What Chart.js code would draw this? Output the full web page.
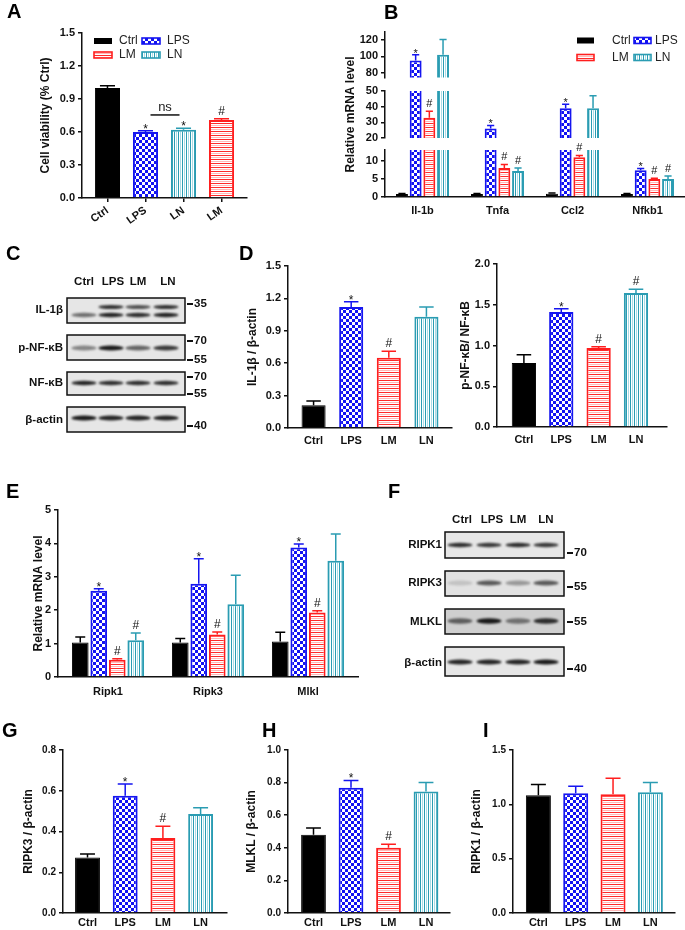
<!DOCTYPE html>
<html>
<head>
<meta charset="utf-8">
<title>Figure</title>
<script src="https://cdn.jsdelivr.net/npm/chart.js@4.4.1/dist/chart.umd.min.js"></script>
<style>
  html, body { margin: 0; padding: 0; background: #fff; }
  #page { position: relative; width: 685px; height: 930px; overflow: hidden; background: #fff; }
  #page canvas { position: absolute; }
</style>
</head>
<body>
<div id="page"><canvas id="bg" width="685" height="930" style="left:0;top:0;width:685px;height:930px"></canvas></div>
<script>
// ---- data ----
const groups = ["Ctrl", "LPS", "LM", "LN"];

// A: cell viability
const aLabels = ["Ctrl", "LPS", "LN", "LM"];
const aValues = [1.0, 0.60, 0.62, 0.71];
const aErrors = [0.02, 0.012, 0.015, 0.01];
const aMarks = ["", "*", "*", "#"];
const aTicks = [0, 0.3, 0.6, 0.9, 1.2, 1.5];

// B: relative mRNA level (broken axis)
const bGenes = ["Il-1b", "Tnfa", "Ccl2", "Nfkb1"];
const bCtrl = [0.8, 0.8, 0.9, 0.8];
const bCtrlErr = [0.2, 0.15, 0.2, 0.15];
const bLPS = [95, 26, 39, 7.4];
const bLPSErr = [7, 2, 2.5, 0.5];
const bLM = [33, 8, 11, 5];
const bLMErr = [4, 1, 0.5, 0.2];
const bLN = [102, 7.2, 39, 5];
const bLNErr = [18, 0.8, 8, 0.8];
const bLPSMarks = ["*", "*", "*", "*"];
const bLMMarks = ["#", "#", "#", "#"];
const bLNMarks = ["", "#", "", "#"];
const bTopRange = [75, 129], bTopTicks = [80, 100, 120];
const bMidRange = [20, 50], bMidTicks = [20, 30, 40, 50];
const bLowRange = [0, 13], bLowTicks = [0, 5, 10];

// D: blot quantification
const d1Values = [0.21, 1.12, 0.65, 1.03];
const d1Errors = [0.04, 0.05, 0.06, 0.09];
const d1Marks = ["", "*", "#", ""];
const d1Ticks = [0, 0.3, 0.6, 0.9, 1.2, 1.5];
const d2Values = [0.785, 1.41, 0.97, 1.645];
const d2Errors = [0.1, 0.04, 0.015, 0.045];
const d2Marks = ["", "*", "#", "#"];
const d2Ticks = [0, 0.5, 1.0, 1.5, 2.0];

// E: relative mRNA level
const eGenes = ["Ripk1", "Ripk3", "Mlkl"];
const eCtrl = [1.03, 1.03, 1.06];
const eCtrlErr = [0.17, 0.12, 0.28];
const eLPS = [2.58, 2.79, 3.88];
const eLPSErr = [0.06, 0.75, 0.1];
const eLM = [0.52, 1.27, 1.93];
const eLMErr = [0.03, 0.08, 0.05];
const eLN = [1.1, 2.18, 3.48];
const eLNErr = [0.22, 0.87, 0.8];
const eLPSMarks = ["*", "*", "*"];
const eLMMarks = ["#", "#", "#"];
const eLNMarks = ["#", "", ""];
const eTicks = [0, 1, 2, 3, 4, 5];

// G, H, I
const gValues = [0.272, 0.576, 0.368, 0.486];
const gErrors = [0.018, 0.057, 0.058, 0.031];
const gMarks = ["", "*", "#", ""];
const gTicks = [0, 0.2, 0.4, 0.6, 0.8];
const hValues = [0.48, 0.768, 0.40, 0.745];
const hErrors = [0.042, 0.045, 0.022, 0.055];
const hMarks = ["", "*", "#", ""];
const hTicks = [0, 0.2, 0.4, 0.6, 0.8, 1.0];
const iValues = [1.083, 1.103, 1.093, 1.112];
const iErrors = [0.1, 0.063, 0.148, 0.088];
const iMarks = ["", "", "", ""];
const iTicks = [0, 0.5, 1.0, 1.5];

// blot band strengths (Ctrl, LPS, LM, LN)
const cIl1bUpper = [0, 0.85, 0.7, 0.85];
const cIl1bLower = [0.55, 0.9, 0.85, 0.9];
const cPnfkb = [0.45, 0.95, 0.6, 0.8];
const cNfkb = [0.9, 0.85, 0.85, 0.85];
const cActin = [0.95, 0.9, 0.9, 0.9];
const fRipk1 = [0.85, 0.8, 0.85, 0.8];
const fRipk3 = [0.15, 0.65, 0.35, 0.65];
const fMlkl = [0.6, 0.95, 0.5, 0.85];
const fActin = [0.9, 0.9, 0.9, 0.95];

// ---- styles ----
const FONT = '"Liberation Sans", Arial, sans-serif';
Chart.defaults.font.family = FONT;
Chart.defaults.color = "#111";
Chart.defaults.animation = false;
Chart.defaults.plugins.legend.display = false;
Chart.defaults.plugins.tooltip.enabled = false;

function makePattern(w, h, draw) {
  const c = document.createElement("canvas");
  c.width = w; c.height = h;
  const x = c.getContext("2d");
  x.fillStyle = "#fff"; x.fillRect(0, 0, w, h);
  draw(x);
  return x.createPattern(c, "repeat");
}
const checker = makePattern(6, 6, x => {
  x.fillStyle = "#1212f2";
  x.fillRect(0, 0, 3, 3); x.fillRect(3, 3, 3, 3);
});
const hStripes = makePattern(4, 4, x => {
  x.fillStyle = "#ff2a2a"; x.fillRect(0, 0, 4, 1);
  x.fillStyle = "#ffb8b8"; x.fillRect(0, 2, 4, 1);
});
const vStripes = makePattern(4, 4, x => {
  x.fillStyle = "#2a9cb2"; x.fillRect(0, 0, 1, 4);
  x.fillStyle = "#a9dbe5"; x.fillRect(2, 0, 1, 4);
});
const fills = { Ctrl: "#000", LPS: checker, LM: hStripes, LN: vStripes };
const edges = { Ctrl: "#000", LPS: "#1515f0", LM: "#ff1e1e", LN: "#2a9cb2" };

// ---- layout boxes (page pixels) ----
const boxA = { axisX: 82, axisEnd: 247, top: 33, bottom: 198, L: 48, B: 40, T: 10, R: 8, xmin: -0.67, xmax: 3.67, barPct: 0.66 };
const boxBTop = { axisX: 385, axisEnd: 685, top: 32, bottom: 79, L: 46, B: 8, T: 10, R: 0, showX: false, catPct: 0.73, barPct: 0.87 };
const boxBMid = { axisX: 385, axisEnd: 685, top: 91, bottom: 138, L: 46, B: 40, T: 40, R: 0, showX: false, catPct: 0.73, barPct: 0.87 };
const boxBLow = { axisX: 385, axisEnd: 685, top: 150, bottom: 197, L: 46, B: 22, T: 10, R: 0, catPct: 0.73, barPct: 0.87 };
const boxD1 = { axisX: 288, axisEnd: 452, top: 266, bottom: 428, L: 47, B: 22, T: 10, R: 6, xmin: -0.68, xmax: 3.68, barPct: 0.64 };
const boxD2 = { axisX: 497, axisEnd: 667, top: 264, bottom: 427, L: 43, B: 22, T: 10, R: 6, xmin: -0.72, xmax: 3.83, barPct: 0.65 };
const boxE = { axisX: 58, axisEnd: 358, top: 510, bottom: 677, L: 31, B: 24, T: 10, R: 6, catPct: 0.74, barPct: 0.9 };
const boxG = { axisX: 63, axisEnd: 227, top: 750, bottom: 913, L: 46, B: 17, T: 10, R: 6, xmin: -0.65, xmax: 3.7, barPct: 0.66 };
const boxH = { axisX: 288, axisEnd: 450, top: 750, bottom: 913, L: 48, B: 17, T: 10, R: 6, xmin: -0.68, xmax: 3.64, barPct: 0.66 };
const boxI = { axisX: 513, axisEnd: 675, top: 750, bottom: 913, L: 48, B: 17, T: 10, R: 6, xmin: -0.68, xmax: 3.66, barPct: 0.67 };

// ---- plugins ----
const errorBars = {
  id: "errorBars",
  afterDatasetsDraw(chart) {
    const ctx = chart.ctx, ys = chart.scales.y;
    chart.data.datasets.forEach((ds, di) => {
      if (!ds.errors) return;
      const meta = chart.getDatasetMeta(di);
      meta.data.forEach((bar, i) => {
        const v = meta.controller.getParsed(i).y;
        if (v < ys.min || v > ys.max) return;
        const yTop = ys.getPixelForValue(v + ds.errors[i]);
        const col = Array.isArray(ds.borderColor) ? ds.borderColor[i] : ds.borderColor;
        const hw = bar.width * 0.3;
        ctx.save();
        ctx.strokeStyle = col;
        ctx.lineWidth = 1.5;
        ctx.beginPath();
        ctx.moveTo(bar.x, bar.y); ctx.lineTo(bar.x, yTop);
        ctx.moveTo(bar.x - hw, yTop); ctx.lineTo(bar.x + hw, yTop);
        ctx.stroke();
        const m = ds.marks && ds.marks[i];
        if (m) {
          ctx.fillStyle = "#111";
          ctx.font = (ds.markSize || 12) + "px " + FONT;
          ctx.textAlign = "center";
          ctx.textBaseline = "alphabetic";
          ctx.fillText(m, bar.x, m === "*" ? yTop + 2 : yTop - 4);
        }
        ctx.restore();
      });
    });
  }
};

function gridLegend(pos) {
  return {
    id: "gridLegend",
    afterDraw(chart) {
      const { ctx, chartArea: a } = chart;
      groups.forEach((name, k) => {
        const col = k % 2, row = Math.floor(k / 2);
        const sx = a.left + pos.sx[col], tx = a.left + pos.tx[col], cy = a.top + pos.ry[row];
        ctx.save();
        ctx.fillStyle = fills[name];
        ctx.fillRect(sx, cy - 3, pos.w, 6);
        if (name !== "Ctrl") {
          ctx.strokeStyle = edges[name];
          ctx.lineWidth = 1.6;
          ctx.strokeRect(sx, cy - 3, pos.w, 6);
        }
        ctx.fillStyle = "#222";
        ctx.font = "12px " + FONT;
        ctx.textBaseline = "middle";
        ctx.textAlign = "left";
        ctx.fillText(name, tx, cy);
        ctx.restore();
      });
    }
  };
}

const aNs = { from: 1, to: 2, level: 0.755, text: "ns" };
const nsBracket = {
  id: "nsBracket",
  afterDatasetsDraw(chart) {
    const { ctx } = chart, xs = chart.scales.x, ys = chart.scales.y;
    const x1 = xs.getPixelForValue(aNs.from) + 5, x2 = xs.getPixelForValue(aNs.to) - 4;
    const y = ys.getPixelForValue(aNs.level);
    ctx.save();
    ctx.strokeStyle = "#111"; ctx.lineWidth = 1.5;
    ctx.beginPath(); ctx.moveTo(x1, y); ctx.lineTo(x2, y); ctx.stroke();
    ctx.fillStyle = "#222"; ctx.font = "13px " + FONT;
    ctx.textAlign = "center"; ctx.textBaseline = "alphabetic";
    ctx.fillText(aNs.text, (x1 + x2) / 2, y - 4);
    ctx.restore();
  }
};

// ---- chart builders ----
const page = document.getElementById("page");
function addChart(box, cfg) {
  const left = box.axisX - box.L, top = box.top - box.T;
  const w = box.axisEnd + box.R - left, h = box.bottom + box.B - top;
  const cv = document.createElement("canvas");
  cv.width = w; cv.height = h;
  Object.assign(cv.style, { left: left + "px", top: top + "px", width: w + "px", height: h + "px" });
  page.appendChild(cv);
  cfg.options.responsive = false;
  cfg.options.animation = false;
  cfg.options.layout = { padding: { top: box.T, right: box.R, left: 0, bottom: box.showX === false ? box.B : 0 } };
  return new Chart(cv, cfg);
}

function yAxis(box, range, ticks, fmt, title, size) {
  return {
    type: "linear", min: range[0], max: range[1], beginAtZero: false,
    grid: { display: true, drawOnChartArea: false, drawTicks: true, tickLength: 4, color: "#111", lineWidth: 1.5 },
    border: { display: true, color: "#111", width: 1.5 },
    afterBuildTicks: s => { s.ticks = ticks.map(v => ({ value: v })); },
    afterFit: s => { s.width = box.L; },
    ticks: { autoSkip: false, padding: 3, font: { size: size, weight: "bold" }, color: "#111", callback: fmt },
    title: { display: !!title, text: title, color: "#111", font: { size: 12, weight: "bold" }, padding: { top: 4, bottom: 4 } }
  };
}

const fix1 = v => v.toFixed(1);
const plain = v => String(v);

function barPanel(box, labels, values, errors, marks, ticks, fmt, title, opt) {
  return addChart(box, {
    type: "bar",
    data: {
      datasets: [{
        data: values.map((v, i) => ({ x: i, y: v })),
        backgroundColor: labels.map(n => fills[n]),
        borderColor: labels.map(n => edges[n]),
        borderWidth: labels.map(n => (n === "Ctrl" ? 1 : 2)),
        borderSkipped: "start",
        categoryPercentage: box.barPct,
        barPercentage: 1,
        errors: errors,
        marks: marks
      }]
    },
    options: {
      scales: {
        x: {
          type: "linear", min: box.xmin, max: box.xmax, offset: false,
          grid: { display: !!opt.tickMarks, drawOnChartArea: false, drawTicks: !!opt.tickMarks, offset: false, tickLength: 4, color: "#111", lineWidth: 1.5 },
          border: { display: true, color: "#111", width: 1.5 },
          afterBuildTicks: s => { s.ticks = labels.map((_, i) => ({ value: i })); },
          afterFit: s => { s.height = box.B; },
          ticks: {
            autoSkip: false, padding: opt.xPad, color: "#111",
            font: { size: 11, weight: "bold" },
            minRotation: opt.rot || 0, maxRotation: opt.rot || 0,
            callback: v => labels[v]
          }
        },
        y: yAxis(box, [ticks[0], ticks[ticks.length - 1]], ticks, fmt, title, opt.ySize)
      }
    },
    plugins: [errorBars].concat(opt.plugins || [])
  });
}

function groupPanel(box, cats, series, range, ticks, title, opt) {
  const showX = box.showX !== false;
  return addChart(box, {
    type: "bar",
    data: {
      labels: cats,
      datasets: series.map(s => ({
        label: s.name,
        data: s.values,
        errors: s.errors,
        marks: s.marks,
        markSize: opt.markSize,
        backgroundColor: fills[s.name],
        borderColor: edges[s.name],
        borderWidth: s.name === "Ctrl" ? 1 : 2,
        categoryPercentage: box.catPct,
        barPercentage: box.barPct,
        clip: 0
      }))
    },
    options: {
      scales: {
        x: {
          type: "category", display: showX, offset: true,
          grid: { display: false, drawTicks: false, offset: true },
          border: { display: true, color: "#111", width: 1.5 },
          afterFit: s => { if (showX) s.height = box.B; },
          ticks: { padding: opt.xPad, color: "#111", font: { size: 11, weight: "bold" } }
        },
        y: yAxis(box, range, ticks, plain, title, 11)
      }
    },
    plugins: [errorBars].concat(opt.plugins || [])
  });
}

// ---- background: letters and blots ----
const bg = document.getElementById("bg").getContext("2d");
bg.fillStyle = "#fff";
bg.fillRect(0, 0, 685, 930);

function letter(t, x, y) {
  bg.save();
  bg.font = "bold 20px " + FONT;
  bg.fillStyle = "#000";
  bg.textAlign = "left";
  bg.textBaseline = "alphabetic";
  bg.fillText(t, x, y);
  bg.restore();
}
[["A", 7, 18], ["B", 384, 19], ["C", 6, 260], ["D", 239, 260], ["E", 6, 498],
 ["F", 388, 498], ["G", 2, 737], ["H", 262, 737], ["I", 483, 737]].forEach(l => letter(l[0], l[1], l[2]));

function text(t, x, y, align, size) {
  bg.save();
  bg.font = "bold " + (size || 11.5) + "px " + FONT;
  bg.fillStyle = "#111";
  bg.textAlign = align;
  bg.textBaseline = "middle";
  bg.fillText(t, x, y);
  bg.restore();
}

function blotRow(x0, x1, y0, y1, lanes, bands, shade) {
  bg.save();
  bg.fillStyle = shade;
  bg.fillRect(x0, y0, x1 - x0, y1 - y0);
  bands.forEach(b => {
    lanes.forEach((lx, i) => {
      const a = b.vals[i];
      if (!a) return;
      bg.save();
      bg.filter = "blur(1px)";
      bg.fillStyle = "rgba(15,15,15," + a + ")";
      bg.beginPath();
      bg.ellipse(lx, b.y, 12.5, b.h / 2, 0, 0, Math.PI * 2);
      bg.fill();
      bg.restore();
    });
  });
  bg.strokeStyle = "#111";
  bg.lineWidth = 1.5;
  bg.strokeRect(x0, y0, x1 - x0, y1 - y0);
  bg.restore();
}

function marker(label, x, y) {
  bg.save();
  bg.strokeStyle = "#111";
  bg.lineWidth = 2;
  bg.beginPath(); bg.moveTo(x, y); bg.lineTo(x + 6, y); bg.stroke();
  bg.restore();
  text(label, x + 7, y, "left", 11.5);
}

// C
const cLanes = [84, 111, 138, 166];
[["Ctrl", 84], ["LPS", 113], ["LM", 138], ["LN", 168]].forEach(l => text(l[0], l[1], 282, "center"));
blotRow(67, 185, 298, 323, cLanes, [{ y: 307, h: 4, vals: cIl1bUpper }, { y: 315, h: 4.5, vals: cIl1bLower }], "#e6e6e6");
blotRow(67, 185, 335, 360, cLanes, [{ y: 348, h: 5, vals: cPnfkb }], "#e6e6e6");
blotRow(67, 185, 372, 395, cLanes, [{ y: 383, h: 4.5, vals: cNfkb }], "#e6e6e6");
blotRow(67, 185, 407, 432, cLanes, [{ y: 418, h: 5, vals: cActin }], "#e6e6e6");
text("IL-1β", 63, 310, "right");
text("p-NF-κB", 63, 348, "right");
text("NF-κB", 63, 383, "right");
text("β-actin", 63, 420, "right");
marker("35", 187, 304);
marker("70", 187, 341); marker("55", 187, 360);
marker("70", 187, 377); marker("55", 187, 394);
marker("40", 187, 426);

// F
const fLanes = [460, 489, 518, 546];
[["Ctrl", 462], ["LPS", 492], ["LM", 518], ["LN", 546]].forEach(l => text(l[0], l[1], 520, "center"));
blotRow(445, 564, 532, 558, fLanes, [{ y: 545, h: 4.5, vals: fRipk1 }], "#e6e6e6");
blotRow(445, 564, 571, 596, fLanes, [{ y: 583, h: 5, vals: fRipk3 }], "#e2e2e2");
blotRow(445, 564, 609, 634, fLanes, [{ y: 621, h: 5.5, vals: fMlkl }], "#cfcfcf");
blotRow(445, 564, 647, 676, fLanes, [{ y: 662, h: 5, vals: fActin }], "#e6e6e6");
text("RIPK1", 442, 545, "right");
text("RIPK3", 442, 583, "right");
text("MLKL", 442, 622, "right");
text("β-actin", 442, 663, "right");
marker("70", 567, 553);
marker("55", 567, 587);
marker("55", 567, 622);
marker("40", 567, 669);

// ---- charts ----
// A
barPanel(boxA, aLabels, aValues, aErrors, aMarks, aTicks, fix1, "Cell viability (% Ctrl)",
  { rot: 35, xPad: 2, tickMarks: true, ySize: 11,
    plugins: [nsBracket, gridLegend({ sx: [12, 60], tx: [37, 85], ry: [8, 22], w: 18 })] });

// B
const bSeries = [
  { name: "Ctrl", values: bCtrl, errors: bCtrlErr, marks: [] },
  { name: "LPS", values: bLPS, errors: bLPSErr, marks: bLPSMarks },
  { name: "LM", values: bLM, errors: bLMErr, marks: bLMMarks },
  { name: "LN", values: bLN, errors: bLNErr, marks: bLNMarks }
];
groupPanel(boxBTop, bGenes, bSeries, bTopRange, bTopTicks, "", { xPad: 0, markSize: 11,
  plugins: [gridLegend({ sx: [192, 249], tx: [227, 270], ry: [8.5, 25.5], w: 17 })] });
groupPanel(boxBMid, bGenes, bSeries, bMidRange, bMidTicks, "Relative mRNA level", { xPad: 0, markSize: 11 });
groupPanel(boxBLow, bGenes, bSeries, bLowRange, bLowTicks, "", { xPad: 7, markSize: 11 });

// D
barPanel(boxD1, groups, d1Values, d1Errors, d1Marks, d1Ticks, fix1, "IL-1β / β-actin", { xPad: 6, ySize: 11 });
barPanel(boxD2, groups, d2Values, d2Errors, d2Marks, d2Ticks, fix1, "p-NF-κB/ NF-κB", { xPad: 6, ySize: 11 });

// E
const eSeries = [
  { name: "Ctrl", values: eCtrl, errors: eCtrlErr, marks: [] },
  { name: "LPS", values: eLPS, errors: eLPSErr, marks: eLPSMarks },
  { name: "LM", values: eLM, errors: eLMErr, marks: eLMMarks },
  { name: "LN", values: eLN, errors: eLNErr, marks: eLNMarks }
];
groupPanel(boxE, eGenes, eSeries, [0, 5], eTicks, "Relative mRNA level", { xPad: 8, markSize: 12 });

// G, H, I
barPanel(boxG, groups, gValues, gErrors, gMarks, gTicks, fix1, "RIPK3 / β-actin", { xPad: 3, ySize: 10 });
barPanel(boxH, groups, hValues, hErrors, hMarks, hTicks, fix1, "MLKL / β-actin", { xPad: 3, ySize: 10 });
barPanel(boxI, groups, iValues, iErrors, iMarks, iTicks, fix1, "RIPK1 / β-actin", { xPad: 3, ySize: 10 });
</script>
</body>
</html>
